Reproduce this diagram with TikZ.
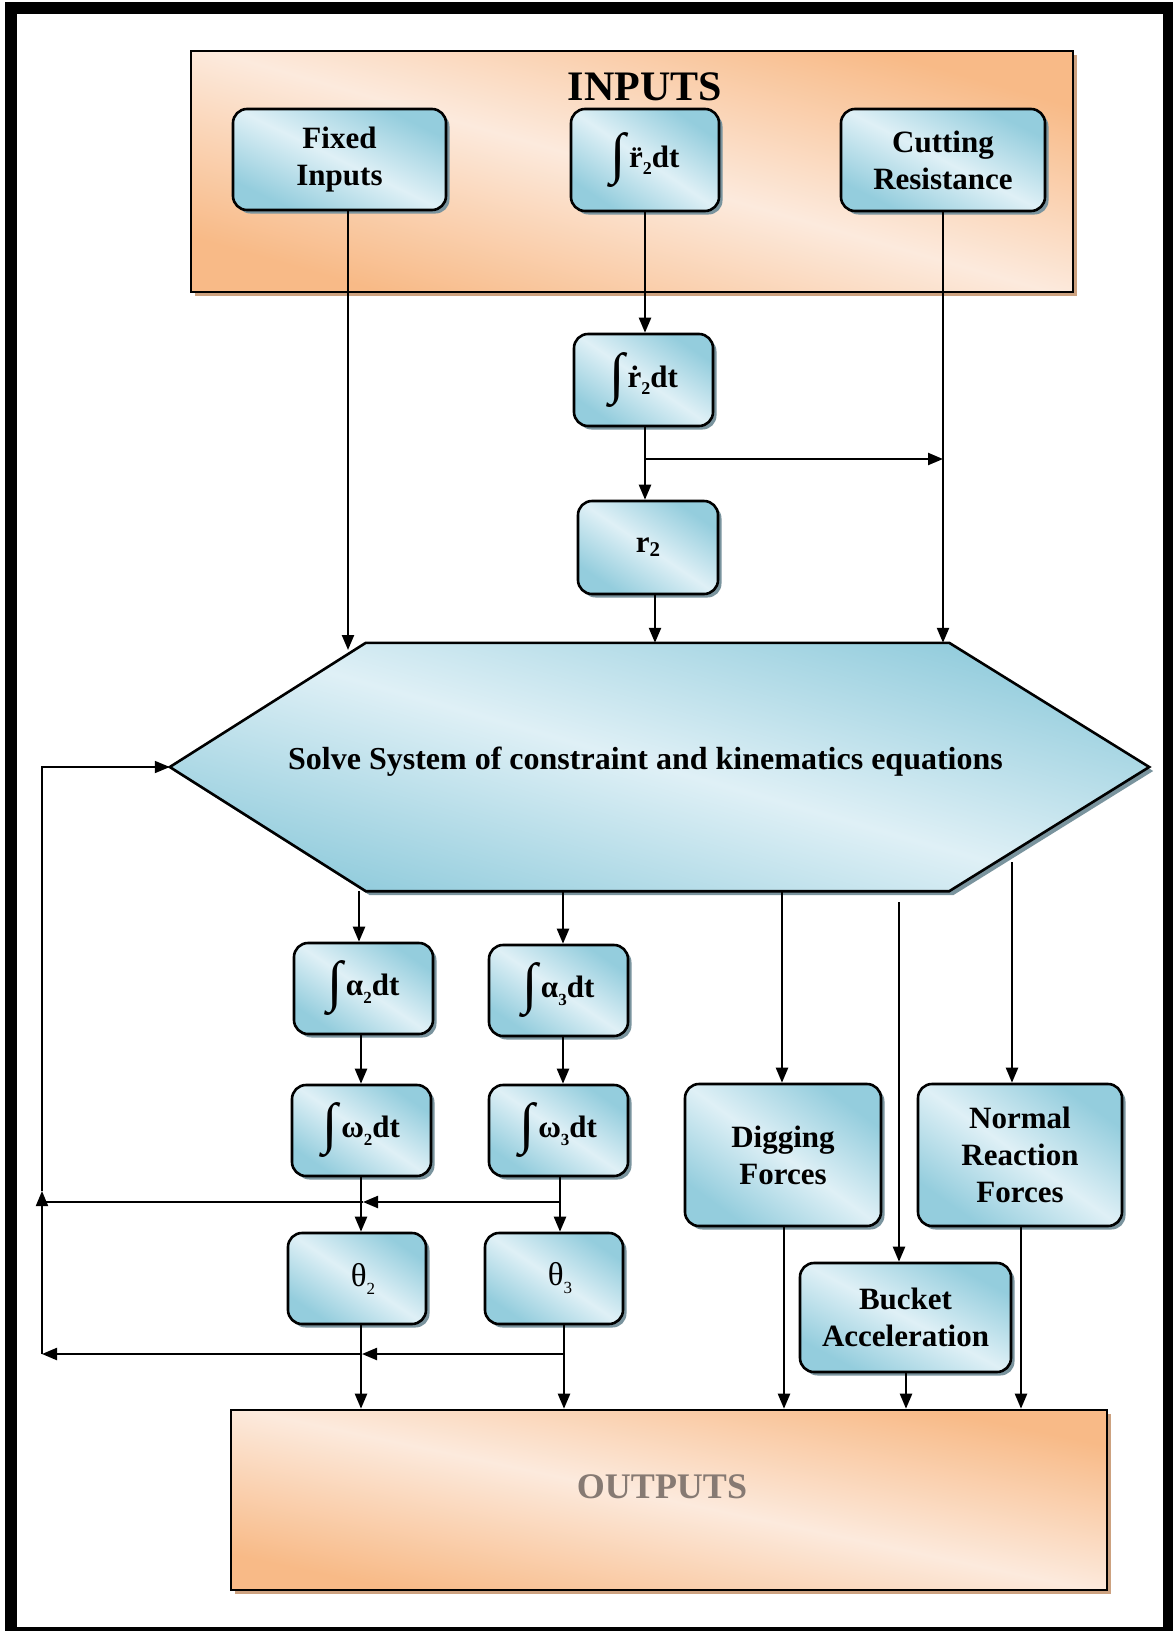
\documentclass[tikz,border=0pt]{standalone}
\usepackage{fontspec}
\setmainfont{Liberation Serif}
\usetikzlibrary{arrows.meta,shadows}
\definecolor{bdark}{RGB}{148,205,221}
\definecolor{blight}{RGB}{223,240,246}
\definecolor{odark}{RGB}{248,186,135}
\definecolor{olight}{RGB}{252,234,221}
\definecolor{bshadow}{RGB}{122,148,158}
\definecolor{oshadow}{RGB}{205,162,128}
\definecolor{outgray}{RGB}{134,122,115}
\pgfdeclarehorizontalshading{bluediag}{100bp}{color(0bp)=(bdark); color(26bp)=(bdark); color(50bp)=(blight); color(74bp)=(bdark); color(100bp)=(bdark)}
\pgfdeclarehorizontalshading{orangediag}{100bp}{color(0bp)=(odark); color(26bp)=(odark); color(50bp)=(olight); color(74bp)=(odark); color(100bp)=(odark)}
\newcommand\bxfont{\fontsize{31}{37}\selectfont\bfseries}
\newcommand\intg{{\fontsize{56}{56}\selectfont\raisebox{-5pt}{∫}}\hspace{3pt}}
\newcommand\sbA[1]{\raisebox{-7pt}{\fontsize{18}{18}\selectfont #1}}
\newcommand\sbB[1]{\raisebox{-8pt}{\fontsize{17}{17}\selectfont #1}}
\newcommand\sbR[1]{\raisebox{-4pt}{\fontsize{21}{21}\selectfont #1}}
\begin{document}
\begin{tikzpicture}[x=1pt,y=-1pt,
  bbox/.style={draw, line width=2.6pt, rounded corners=14pt, shading=bluediag, shading angle=56,
    drop shadow={shadow xshift=3.5pt, shadow yshift=-3.5pt, fill=bshadow, opacity=1},
    align=center, inner sep=0pt, font=\bxfont},
  obox/.style={draw, line width=2.6pt, shading=orangediag,
    drop shadow={shadow xshift=4pt, shadow yshift=-4pt, fill=oshadow, opacity=1}, inner sep=0pt},
  arr/.style={line width=2.3pt, -{Triangle[length=15pt,width=12pt]}},
]
\useasboundingbox (0,0) rectangle (1173,1631);
\clip (0,0) rectangle (1173,1631);
\draw[line width=12pt] (11,8) rectangle (1169,1633);

% inputs
\node[obox, shading angle=74, minimum width=882pt, minimum height=241pt] (inp) at (632,171.5) {};
\node[font=\fontsize{42}{48}\selectfont\bfseries, inner sep=0pt] (inptitle) at (645,87) {INPUTS};
\node[bbox, shading angle=64, minimum width=213pt, minimum height=101pt] (fix) at (339.5,159.5) {Fixed\\Inputs};
\node[bbox, minimum width=148pt, minimum height=102pt] (rdd) at (645,160) {\intg\"r\sbA{2}dt};
\node[bbox, shading angle=63, minimum width=204pt, minimum height=102pt] (cut) at (943,160) {Cutting\\Resistance};

\node[bbox, minimum width=139pt, minimum height=92pt] (rd) at (643.5,380) {\intg\.r\sbA{2}dt};
\node[bbox, minimum width=140pt, minimum height=93pt] (r2) at (648,547.5) {r\sbR{2}};

% hexagon
\node[minimum width=979pt, minimum height=248pt, inner sep=0pt] (hex) at (659.5,767) {};
\path[draw, line width=2.6pt, shading=bluediag, shading angle=74,
    drop shadow={shadow xshift=4pt, shadow yshift=-4pt, fill=bshadow, opacity=1}]
  (hex.west) -- ([xshift=196pt]hex.north west) -- ([xshift=-200pt]hex.north east) -- (hex.east)
  -- ([xshift=-200pt]hex.south east) -- ([xshift=196pt]hex.south west) -- cycle;
\node[font=\fontsize{32}{38}\selectfont\bfseries, inner sep=0pt] (hextxt) at (645.5,762) {Solve System of constraint and kinematics equations};

\node[bbox, minimum width=139pt, minimum height=91pt] (a2) at (363.5,988.5) {\intg α\sbB{2}dt};
\node[bbox, minimum width=139pt, minimum height=91pt] (a3) at (558.5,990.5) {\intg α\sbB{3}dt};
\node[bbox, minimum width=139pt, minimum height=91pt] (w2) at (361.5,1130.5) {\intg ω\sbB{2}dt};
\node[bbox, minimum width=139pt, minimum height=91pt] (w3) at (558.5,1130.5) {\intg ω\sbB{3}dt};
\node[bbox, minimum width=138pt, minimum height=91pt, font=\fontsize{33}{37}\selectfont] (t2) at (357,1278.5) {\hspace{12pt}θ\sbB{2}};
\node[bbox, minimum width=138pt, minimum height=91pt, font=\fontsize{33}{37}\selectfont] (t3) at (554,1278.5) {\hspace{12pt}θ\sbB{3}};

\node[bbox, shading angle=54, minimum width=196pt, minimum height=142pt] (dig) at (783,1155) {Digging\\Forces};
\node[bbox, shading angle=55, minimum width=204pt, minimum height=142pt] (nrf) at (1020,1155) {Normal\\Reaction\\Forces};
\node[bbox, shading angle=62, minimum width=211pt, minimum height=109pt] (buck) at (905.5,1317.5) {Bucket\\Acceleration};

% outputs
\node[obox, shading angle=78, minimum width=876pt, minimum height=180pt] (out) at (669,1500) {};
\node[font=\fontsize{36}{42}\selectfont\bfseries, text=outgray, inner sep=0pt] (outtxt) at (662,1487) {OUTPUTS};

% column coordinates
\coordinate (crr) at (655,0);
\coordinate (ca2) at (359,0);
\coordinate (ca3) at (563,0);
\coordinate (cw2) at (361,0);
\coordinate (cw3) at (560,0);
\coordinate (ct3) at (564,0);
\coordinate (cd) at (782,0);
\coordinate (cdo) at (784,0);
\coordinate (cbo) at (906,0);
\coordinate (cno) at (1021,0);
\coordinate (fixend) at (348,650);
\coordinate (brs) at (645,459);
\coordinate (bstart) at (899,902);
\coordinate (nstart) at (1012,862);
\coordinate (fbm3) at (560,1202);
\coordinate (fbm2) at (363,1202);
\coordinate (fbml) at (42,1202);
\coordinate (fbb3) at (564,1354);
\coordinate (fbb2) at (362,1354);
\coordinate (fbbl) at (42,1354);
\coordinate (fbup) at (42,1191);

% connectors
\draw[arr] (fix.south -| fixend) -- (fixend);
\draw[arr] (rdd.south) -- (rdd.south |- rd.north);
\draw[arr] (rd.south -| brs) -- (r2.north -| brs);
\draw[arr] (brs) -- (brs -| cut.south);
\draw[arr] (cut.south) -- (cut.south |- hex.north);
\draw[arr] (r2.south -| crr) -- (hex.north -| crr);

\draw[arr] (hex.south -| ca2) -- (a2.north -| ca2);
\draw[arr] (hex.south -| ca3) -- (a3.north -| ca3);
\draw[arr] (a2.south -| cw2) -- (w2.north -| cw2);
\draw[arr] (a3.south -| ca3) -- (w3.north -| ca3);
\draw[arr] (w2.south -| cw2) -- (t2.north -| cw2);
\draw[arr] (w3.south -| cw3) -- (t3.north -| cw3);

\draw[arr] (fbm3) -- (fbm2);
\draw[line width=1.8pt] (fbm2) -- (fbml);
\draw[arr] (fbb3) -- (fbb2);
\draw[arr] (fbb2) -- (fbbl);
\draw[arr, line width=1.8pt] (fbbl) -- (fbup);
\draw[arr, line width=1.8pt] (fbup) |- (hex.west);

\draw[arr] (t2.south -| cw2) -- (out.north -| cw2);
\draw[arr] (t3.south -| ct3) -- (out.north -| ct3);
\draw[arr] (hex.south -| cd) -- (dig.north -| cd);
\draw[arr] (bstart) -- (buck.north -| bstart);
\draw[arr] (nstart) -- (nrf.north -| nstart);
\draw[arr] (dig.south -| cdo) -- (out.north -| cdo);
\draw[arr] (buck.south -| cbo) -- (out.north -| cbo);
\draw[arr] (nrf.south -| cno) -- (out.north -| cno);
\end{tikzpicture}
\end{document}
